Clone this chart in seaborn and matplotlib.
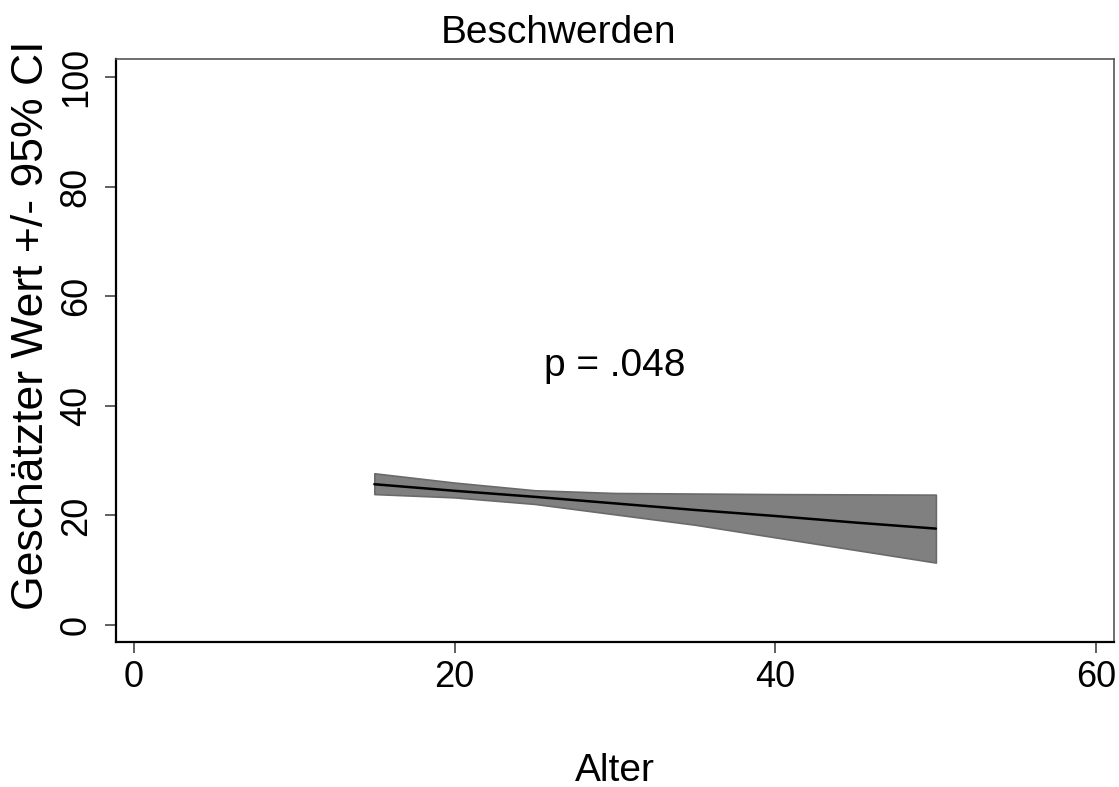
import pandas as pd
import seaborn as sns
import matplotlib.pyplot as plt

# Werte
alter = [15, 20, 25, 30, 35, 40, 45, 50]
schaetzer = [25.7, 24.5, 23.4, 22.2, 21.0, 19.9, 18.7, 17.6]
ci_oben = [27.7, 26.0, 24.6, 24.1, 24.0, 23.9, 23.85, 23.8]
ci_unten = [23.9, 23.3, 22.1, 20.2, 18.3, 16.0, 13.7, 11.4]

df = pd.DataFrame({"Alter": alter, "Wert": schaetzer,
                   "oben": ci_oben, "unten": ci_unten})

sns.set_style("white")
plt.rcParams['font.family'] = ['Liberation Sans', 'DejaVu Sans']
plt.rcParams['text.color'] = 'black'
plt.rcParams['axes.labelcolor'] = 'black'
plt.rcParams['xtick.labelcolor'] = 'black'
plt.rcParams['ytick.labelcolor'] = 'black'

fig = plt.figure(figsize=(11.19, 7.87), dpi=100)
ax = fig.add_axes([0.1037, 0.1842, 0.8918, 0.7408])

# Konfidenzband
ax.fill_between(df["Alter"], df["unten"], df["oben"],
                facecolor="#808080", edgecolor="#6a6a6a", linewidth=1.2)
sns.lineplot(data=df, x="Alter", y="Wert", color="black", linewidth=1.8, ax=ax)

ax.text(30, 47.3, "p = .048", ha="center", va="center", fontsize=28)

ax.set_xlim(-1.1, 61.1)
ax.set_ylim(-3.1, 103.3)
ax.set_xticks([0, 20, 40, 60])
ax.set_yticks([0, 20, 40, 60, 80, 100])
ax.tick_params(axis="both", direction="out", length=8, width=1.2,
               color="#444444", labelsize=26, left=True, bottom=True)
ax.tick_params(axis="x", pad=5)
ax.tick_params(axis="y", pad=8)
for lab in ax.get_yticklabels():
    lab.set_rotation(90)
    lab.set_va("center")

for side in ["left", "bottom"]:
    ax.spines[side].set_color("black")
    ax.spines[side].set_linewidth(1.6)
for side in ["top", "right"]:
    ax.spines[side].set_color("#555555")
    ax.spines[side].set_linewidth(1.2)

ax.set_xlabel("Alter", fontsize=28)
ax.set_ylabel("Geschätzter Wert +/- 95% CI", fontsize=32)
ax.xaxis.set_label_coords(0.5, -0.19)
ax.yaxis.set_label_coords(-0.064, 0.544)

fig.text(0.499, 0.958, "Beschwerden", ha="center", va="center", fontsize=28)

fig.savefig("out.png", dpi=100)
